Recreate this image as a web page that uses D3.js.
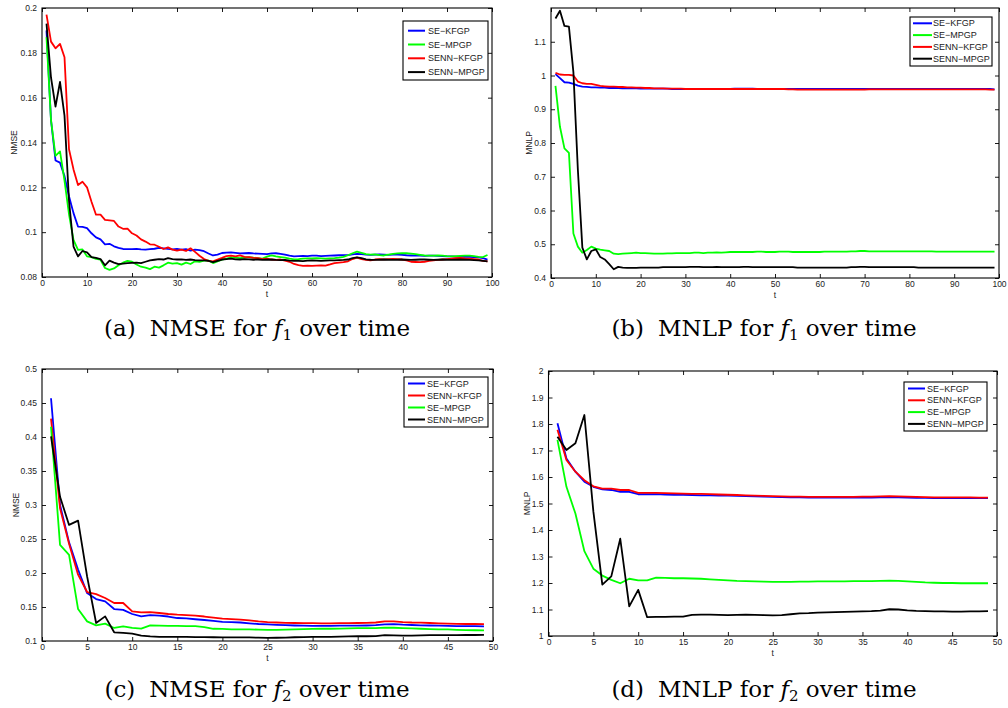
<!DOCTYPE html>
<html><head><meta charset="utf-8">
<script src="https://cdn.jsdelivr.net/npm/d3@7"></script>
<style>
body{margin:0;background:#fff}
text{font-family:"Liberation Sans",Arial,sans-serif}
.cap{font-family:"DejaVu Serif","Liberation Serif",serif;white-space:pre}
</style>
</head><body><svg id="c" width="1008" height="708"></svg>
<script>
// ---------------- DATA ----------------
const seriesNames = ["SE−KFGP","SE−MPGP","SENN−KFGP","SENN−MPGP"];
const seriesColors = {"SE−KFGP":"#0000ff","SE−MPGP":"#00ff00","SENN−KFGP":"#ff0000","SENN−MPGP":"#000000"};

// time indices
const tLong = d3.range(1,100);   // t = 1..99
const tShort = d3.range(1,50);   // t = 1..49

// (a) NMSE for f1
const a_SE_KFGP = [0.190,0.150,0.132,0.131,0.125,0.116,0.1085,0.1025,0.1024,0.1018,0.0995,0.0977,0.0968,0.0946,0.0948,0.0937,0.0930,0.0925,0.0924,0.0924,0.0925,0.0923,0.0922,0.0924,0.0926,0.0930,0.0928,0.0925,0.0923,0.0925,0.0922,0.0924,0.0918,0.0922,0.0920,0.0915,0.0905,0.0896,0.0900,0.0907,0.0909,0.0910,0.0908,0.0905,0.0906,0.0907,0.0905,0.0904,0.0903,0.0902,0.0905,0.0906,0.0903,0.0900,0.0895,0.0892,0.0893,0.0894,0.0893,0.0895,0.0895,0.0893,0.0894,0.0895,0.0896,0.0897,0.0898,0.0898,0.0901,0.0903,0.0902,0.0900,0.0899,0.0900,0.0901,0.0900,0.0899,0.0900,0.0900,0.0899,0.0897,0.0896,0.0895,0.0895,0.0894,0.0895,0.0895,0.0894,0.0893,0.0892,0.0892,0.0891,0.0891,0.0890,0.0890,0.0889,0.0888,0.0884,0.0878];
const a_SE_MPGP = [0.187,0.150,0.134,0.136,0.123,0.108,0.0966,0.0921,0.0923,0.0892,0.0889,0.0881,0.0877,0.0840,0.0832,0.0838,0.0852,0.0864,0.0872,0.0868,0.0856,0.0846,0.0842,0.0835,0.0846,0.0842,0.0852,0.0864,0.0860,0.0862,0.0855,0.0864,0.0858,0.0870,0.0868,0.0873,0.0874,0.0862,0.0870,0.0877,0.0882,0.0888,0.0886,0.0884,0.0887,0.0889,0.0886,0.0884,0.0882,0.0891,0.0896,0.0892,0.0889,0.0886,0.0882,0.0879,0.0880,0.0882,0.0883,0.0883,0.0884,0.0883,0.0882,0.0883,0.0884,0.0886,0.0890,0.0897,0.0906,0.0913,0.0908,0.0902,0.0900,0.0901,0.0898,0.0896,0.0900,0.0903,0.0905,0.0906,0.0906,0.0904,0.0902,0.0899,0.0896,0.0895,0.0895,0.0896,0.0895,0.0893,0.0892,0.0893,0.0894,0.0895,0.0895,0.0893,0.0890,0.0889,0.0898];
const a_SENN_KFGP = [0.197,0.185,0.182,0.184,0.178,0.137,0.128,0.121,0.1225,0.120,0.1136,0.1078,0.1078,0.1055,0.1053,0.1050,0.1025,0.1015,0.1016,0.0995,0.0985,0.0968,0.0958,0.0946,0.0944,0.0935,0.0925,0.0932,0.0922,0.0918,0.0922,0.0916,0.0928,0.0912,0.0895,0.0880,0.0872,0.0870,0.0878,0.0885,0.0893,0.0895,0.0892,0.0896,0.0890,0.0889,0.0885,0.0884,0.0880,0.0882,0.0878,0.0876,0.0878,0.0873,0.0868,0.0858,0.0853,0.0850,0.0851,0.0850,0.0851,0.0852,0.0851,0.0856,0.0862,0.0864,0.0866,0.0870,0.0880,0.0886,0.0880,0.0876,0.0874,0.0878,0.0880,0.0879,0.0880,0.0881,0.0880,0.0878,0.0874,0.0868,0.0867,0.0866,0.0868,0.0872,0.0874,0.0876,0.0878,0.0880,0.0882,0.0884,0.0885,0.0883,0.0882,0.0880,0.0878,0.0872,0.0870];
const a_SENN_MPGP = [0.193,0.169,0.156,0.167,0.152,0.114,0.0936,0.0892,0.0916,0.0910,0.0889,0.0885,0.0880,0.0852,0.0873,0.0864,0.0857,0.0860,0.0862,0.0863,0.0864,0.0862,0.0868,0.0874,0.0877,0.0880,0.0878,0.0884,0.0880,0.0878,0.0879,0.0876,0.0878,0.0875,0.0874,0.0874,0.0872,0.0866,0.0872,0.0878,0.0880,0.0882,0.0879,0.0878,0.0880,0.0879,0.0877,0.0878,0.0876,0.0877,0.0878,0.0876,0.0875,0.0876,0.0873,0.0872,0.0872,0.0871,0.0873,0.0874,0.0873,0.0872,0.0873,0.0874,0.0874,0.0875,0.0876,0.0878,0.0884,0.0888,0.0884,0.0879,0.0877,0.0876,0.0877,0.0878,0.0877,0.0876,0.0877,0.0878,0.0877,0.0876,0.0877,0.0878,0.0878,0.0877,0.0876,0.0877,0.0878,0.0877,0.0876,0.0877,0.0878,0.0877,0.0876,0.0875,0.0874,0.0872,0.0870];

// (b) MNLP for f1
const b_SE_KFGP = [1.004,0.992,0.980,0.979,0.975,0.970,0.967,0.966,0.965,0.965,0.964,0.964,0.963,0.963,0.963,0.962,0.962,0.962,0.962,0.961,0.961,0.961,0.961,0.961,0.961,0.961,0.960,0.960,0.960,0.960,0.960,0.960,0.960,0.960,0.960,0.960,0.960,0.960,0.960,0.960,0.961,0.961,0.961,0.961,0.961,0.960,0.960,0.960,0.960,0.960,0.960,0.960,0.960,0.960,0.960,0.960,0.960,0.960,0.960,0.960,0.960,0.960,0.960,0.960,0.960,0.960,0.960,0.960,0.960,0.960,0.960,0.960,0.960,0.960,0.960,0.960,0.960,0.960,0.960,0.960,0.960,0.960,0.960,0.960,0.960,0.960,0.960,0.960,0.960,0.960,0.960,0.960,0.960,0.960,0.960,0.960,0.960,0.960,0.959];
const b_SE_MPGP = [0.969,0.848,0.784,0.771,0.532,0.493,0.475,0.483,0.493,0.487,0.484,0.482,0.480,0.472,0.471,0.472,0.473,0.474,0.475,0.474,0.474,0.473,0.472,0.472,0.472,0.473,0.473,0.474,0.474,0.474,0.474,0.475,0.475,0.474,0.475,0.475,0.476,0.475,0.476,0.477,0.477,0.477,0.477,0.477,0.477,0.478,0.478,0.477,0.477,0.477,0.478,0.478,0.478,0.477,0.477,0.477,0.477,0.477,0.477,0.477,0.478,0.478,0.478,0.478,0.478,0.478,0.479,0.479,0.480,0.480,0.479,0.479,0.479,0.479,0.479,0.479,0.479,0.479,0.479,0.479,0.479,0.479,0.479,0.479,0.479,0.478,0.478,0.478,0.478,0.478,0.478,0.478,0.478,0.478,0.478,0.478,0.478,0.478,0.478];
const b_SENN_KFGP = [1.008,1.003,1.002,1.002,1.000,0.982,0.977,0.975,0.975,0.972,0.969,0.968,0.967,0.967,0.966,0.966,0.965,0.965,0.964,0.964,0.963,0.963,0.962,0.962,0.962,0.961,0.961,0.961,0.961,0.960,0.960,0.960,0.960,0.960,0.960,0.960,0.960,0.960,0.960,0.960,0.960,0.960,0.960,0.960,0.960,0.960,0.960,0.960,0.960,0.960,0.960,0.960,0.959,0.959,0.958,0.958,0.958,0.958,0.958,0.958,0.958,0.958,0.958,0.958,0.958,0.958,0.958,0.958,0.958,0.958,0.959,0.959,0.959,0.959,0.959,0.959,0.959,0.959,0.959,0.959,0.959,0.959,0.959,0.959,0.959,0.959,0.959,0.959,0.959,0.959,0.959,0.959,0.959,0.959,0.959,0.959,0.959,0.958,0.958];
const b_SENN_MPGP = [1.169,1.192,1.147,1.145,1.010,0.720,0.490,0.455,0.480,0.485,0.462,0.455,0.441,0.426,0.433,0.431,0.430,0.430,0.430,0.431,0.431,0.431,0.431,0.431,0.432,0.432,0.432,0.432,0.432,0.432,0.433,0.433,0.433,0.432,0.432,0.432,0.433,0.432,0.432,0.432,0.432,0.432,0.433,0.433,0.432,0.432,0.432,0.432,0.432,0.432,0.432,0.432,0.432,0.432,0.431,0.431,0.431,0.431,0.431,0.431,0.431,0.431,0.431,0.431,0.431,0.431,0.432,0.432,0.433,0.433,0.432,0.432,0.432,0.432,0.432,0.432,0.432,0.432,0.432,0.432,0.432,0.431,0.431,0.431,0.431,0.431,0.431,0.431,0.431,0.431,0.431,0.431,0.431,0.431,0.431,0.431,0.431,0.431,0.431];

// (c) NMSE for f2
const c_SE_KFGP = [0.457,0.300,0.245,0.205,0.1705,0.1617,0.1582,0.147,0.1458,0.1397,0.1362,0.138,0.1372,0.136,0.1338,0.1332,0.132,0.1309,0.1295,0.128,0.1278,0.1272,0.126,0.125,0.1245,0.1238,0.1232,0.1228,0.1225,0.1222,0.1222,0.1222,0.1225,0.1225,0.1226,0.1228,0.1232,0.1245,0.1248,0.1240,0.1235,0.1230,0.1228,0.1225,0.1222,0.1220,0.1218,0.1218,0.1215];
const c_SENN_KFGP = [0.427,0.295,0.243,0.1975,0.172,0.169,0.1632,0.1559,0.1559,0.1436,0.1422,0.1426,0.1412,0.1397,0.1387,0.138,0.1372,0.136,0.1345,0.1328,0.1322,0.1315,0.1302,0.1288,0.1278,0.1272,0.1268,0.1265,0.1262,0.1262,0.126,0.126,0.1262,0.1262,0.1265,0.1268,0.1272,0.129,0.1288,0.1278,0.1272,0.127,0.1265,0.126,0.1255,0.1252,0.125,0.125,0.1248];
const c_SE_MPGP = [0.415,0.2413,0.2267,0.147,0.1289,0.123,0.1255,0.1192,0.1216,0.1192,0.1182,0.123,0.1225,0.1222,0.1222,0.122,0.1218,0.1205,0.118,0.1178,0.1172,0.117,0.117,0.1168,0.1165,0.1165,0.1168,0.1172,0.1175,0.1178,0.118,0.118,0.1182,0.1185,0.1188,0.119,0.119,0.1198,0.1195,0.119,0.1185,0.118,0.1175,0.1172,0.117,0.1165,0.116,0.1158,0.1155];
const c_SENN_MPGP = [0.401,0.312,0.2707,0.277,0.195,0.1265,0.1362,0.1128,0.1118,0.1108,0.1079,0.1067,0.106,0.106,0.106,0.106,0.1058,0.1057,0.1055,0.1052,0.1052,0.1053,0.1052,0.105,0.1045,0.1048,0.105,0.1055,0.1058,0.106,0.1062,0.1062,0.1065,0.1068,0.107,0.107,0.1072,0.1085,0.1082,0.1078,0.108,0.1082,0.1085,0.1085,0.1086,0.1087,0.1088,0.1088,0.109];

// (d) MNLP for f2
const d_SE_KFGP = [1.803,1.670,1.620,1.582,1.563,1.553,1.551,1.544,1.544,1.535,1.535,1.535,1.534,1.533,1.533,1.532,1.531,1.531,1.530,1.530,1.529,1.528,1.527,1.526,1.525,1.524,1.523,1.523,1.522,1.522,1.522,1.522,1.522,1.522,1.522,1.522,1.523,1.524,1.523,1.522,1.521,1.521,1.520,1.520,1.520,1.520,1.520,1.520,1.520];
const d_SENN_KFGP = [1.778,1.664,1.620,1.588,1.565,1.556,1.556,1.551,1.551,1.540,1.540,1.540,1.539,1.538,1.537,1.536,1.536,1.535,1.534,1.533,1.532,1.531,1.530,1.529,1.528,1.527,1.526,1.526,1.525,1.525,1.525,1.525,1.525,1.525,1.526,1.526,1.527,1.528,1.527,1.526,1.525,1.524,1.523,1.523,1.523,1.523,1.523,1.522,1.522];
const d_SE_MPGP = [1.740,1.563,1.462,1.320,1.254,1.228,1.212,1.199,1.216,1.210,1.210,1.220,1.219,1.218,1.218,1.217,1.216,1.214,1.212,1.210,1.208,1.207,1.206,1.205,1.204,1.204,1.204,1.205,1.205,1.206,1.206,1.206,1.206,1.207,1.207,1.207,1.208,1.209,1.208,1.206,1.204,1.202,1.201,1.200,1.200,1.199,1.199,1.199,1.199];
const d_SENN_MPGP = [1.752,1.702,1.727,1.834,1.470,1.194,1.225,1.367,1.112,1.174,1.071,1.072,1.072,1.073,1.073,1.080,1.081,1.081,1.080,1.079,1.080,1.081,1.080,1.079,1.078,1.079,1.082,1.085,1.086,1.088,1.089,1.090,1.091,1.092,1.093,1.094,1.096,1.101,1.100,1.097,1.095,1.094,1.093,1.093,1.092,1.092,1.093,1.093,1.094];

// tick values / labels
const xTicksLong = [0,10,20,30,40,50,60,70,80,90,100];
const xTicksShort = [0,5,10,15,20,25,30,35,40,45,50];
const yTicksA = [0.08,0.1,0.12,0.14,0.16,0.18,0.2];
const yTicksB = [0.4,0.5,0.6,0.7,0.8,0.9,1,1.1];
const yTicksC = [0.1,0.15,0.2,0.25,0.3,0.35,0.4,0.45,0.5];
const yTicksD = [1,1.1,1.2,1.3,1.4,1.5,1.6,1.7,1.8,1.9,2];

const legendOrderF1 = ["SE−KFGP","SE−MPGP","SENN−KFGP","SENN−MPGP"];
const legendOrderF2 = ["SE−KFGP","SENN−KFGP","SE−MPGP","SENN−MPGP"];

// ---------------- LAYOUT ----------------
const panels = [
  {t:tLong, xDomain:[0,100], yDomain:[0.08,0.2], xTicks:xTicksLong, yTicks:yTicksA, ylabel:"NMSE",
   series:{"SE−KFGP":a_SE_KFGP,"SE−MPGP":a_SE_MPGP,"SENN−KFGP":a_SENN_KFGP,"SENN−MPGP":a_SENN_MPGP},
   order:legendOrderF1, box:{l:42,r:492,t:8,b:277}, ylabX:14,
   leg:{x:403,y:21,w:85,h:59,row0:30.7,dy:13.8,l0:408,l1:425,tx:428,fs:9},
   cap:{x:257,y:336,tag:"(a)",metric:"NMSE",sub:"1"}},
  {t:tLong, xDomain:[0,100], yDomain:[0.4,1.2], xTicks:xTicksLong, yTicks:yTicksB, ylabel:"MNLP",
   series:{"SE−KFGP":b_SE_KFGP,"SE−MPGP":b_SE_MPGP,"SENN−KFGP":b_SENN_KFGP,"SENN−MPGP":b_SENN_MPGP},
   order:legendOrderF1, box:{l:551,r:999,t:8,b:278}, ylabX:529,
   leg:{x:910,y:17,w:82,h:49,row0:23.3,dy:11.8,l0:913,l1:932,tx:933,fs:9},
   cap:{x:764,y:336,tag:"(b)",metric:"MNLP",sub:"1"}},
  {t:tShort, xDomain:[0,50], yDomain:[0.1,0.5], xTicks:xTicksShort, yTicks:yTicksC, ylabel:"NMSE",
   series:{"SE−KFGP":c_SE_KFGP,"SENN−KFGP":c_SENN_KFGP,"SE−MPGP":c_SE_MPGP,"SENN−MPGP":c_SENN_MPGP},
   order:legendOrderF2, box:{l:42,r:493,t:369,b:641}, ylabX:16,
   leg:{x:404,y:377,w:84,h:50,row0:383.5,dy:12,l0:408,l1:425,tx:427,fs:9},
   cap:{x:257,y:697,tag:"(c)",metric:"NMSE",sub:"2"}},
  {t:tShort, xDomain:[0,50], yDomain:[1,2], xTicks:xTicksShort, yTicks:yTicksD, ylabel:"MNLP",
   series:{"SE−KFGP":d_SE_KFGP,"SENN−KFGP":d_SENN_KFGP,"SE−MPGP":d_SE_MPGP,"SENN−MPGP":d_SENN_MPGP},
   order:legendOrderF2, box:{l:548.5,r:997,t:371,b:636}, ylabX:527,
   leg:{x:904,y:382,w:83,h:49,row0:388.5,dy:11.8,l0:908,l1:925,tx:927,fs:9},
   cap:{x:764,y:697,tag:"(d)",metric:"MNLP",sub:"2"}}
];

const svg = d3.select("#c");
const TXT = "#222";

panels.forEach(p => {
  const B = p.box;
  const x = d3.scaleLinear().domain(p.xDomain).range([B.l,B.r]);
  const y = d3.scaleLinear().domain(p.yDomain).range([B.b,B.t]);
  const g = svg.append("g");

  const fmt = d => String(d);
  const ax = [
    {a:d3.axisBottom(x).tickValues(p.xTicks).tickSize(-4).tickPadding(3).tickFormat(fmt), tr:`translate(0,${B.b})`},
    {a:d3.axisTop(x).tickValues(p.xTicks).tickSize(-4).tickFormat(""), tr:`translate(0,${B.t})`},
    {a:d3.axisLeft(y).tickValues(p.yTicks).tickSize(-4).tickPadding(5).tickFormat(fmt), tr:`translate(${B.l},0)`},
    {a:d3.axisRight(y).tickValues(p.yTicks).tickSize(-4).tickFormat(""), tr:`translate(${B.r},0)`}
  ];
  ax.forEach(o => {
    const gg = g.append("g").attr("transform",o.tr).call(o.a);
    gg.select(".domain").remove();
    gg.selectAll(".tick line").attr("stroke","#000").attr("stroke-width",0.9);
    gg.selectAll(".tick text").attr("fill",TXT).style("font-size","8.5px").style("font-family","'Liberation Sans',Arial,sans-serif");
  });

  const line = d3.line().x((d,i)=>x(p.t[i])).y(d=>y(d));
  Object.keys(p.series).forEach(name => {
    g.append("path").datum(p.series[name])
      .attr("d", line).attr("fill","none")
      .attr("stroke", seriesColors[name]).attr("stroke-width",1.8)
      .attr("stroke-linejoin","round");
  });

  g.append("rect").attr("x",B.l).attr("y",B.t).attr("width",B.r-B.l).attr("height",B.b-B.t)
    .attr("fill","none").attr("stroke","#000").attr("stroke-width",1.1);

  g.append("text").attr("x",(B.l+B.r)/2).attr("y",B.b+20).attr("text-anchor","middle")
    .attr("fill",TXT).style("font-size","8.5px").text("t");
  g.append("text").attr("transform",`translate(${p.ylabX},${(B.t+B.b)/2}) rotate(-90)`)
    .attr("text-anchor","middle").attr("dy","0.35em")
    .attr("fill",TXT).style("font-size","8.5px").text(p.ylabel);

  const L = p.leg;
  const lg = g.append("g");
  lg.append("rect").attr("x",L.x).attr("y",L.y).attr("width",L.w).attr("height",L.h)
    .attr("fill","#fff").attr("stroke","#000").attr("stroke-width",1.1);
  p.order.forEach((name,i) => {
    const yy = L.row0 + i*L.dy;
    lg.append("line").attr("x1",L.l0).attr("x2",L.l1).attr("y1",yy).attr("y2",yy)
      .attr("stroke",seriesColors[name]).attr("stroke-width",2);
    lg.append("text").attr("x",L.tx).attr("y",yy).attr("dy","0.35em")
      .attr("fill",TXT).style("font-size",L.fs+"px").text(name);
  });

  const C = p.cap;
  const ct = svg.append("text").attr("class","cap").attr("x",C.x).attr("y",C.y)
    .attr("text-anchor","middle").attr("fill","#000").style("font-size","23px");
  ct.append("tspan").text(C.tag);
  ct.append("tspan").attr("dx",14).text(`${C.metric} for `);
  ct.append("tspan").style("font-style","italic").text("f");
  ct.append("tspan").attr("dy",4).style("font-size","15px").text(C.sub);
  ct.append("tspan").attr("dy",-4).text(" over time");
});
</script>
</body></html>
